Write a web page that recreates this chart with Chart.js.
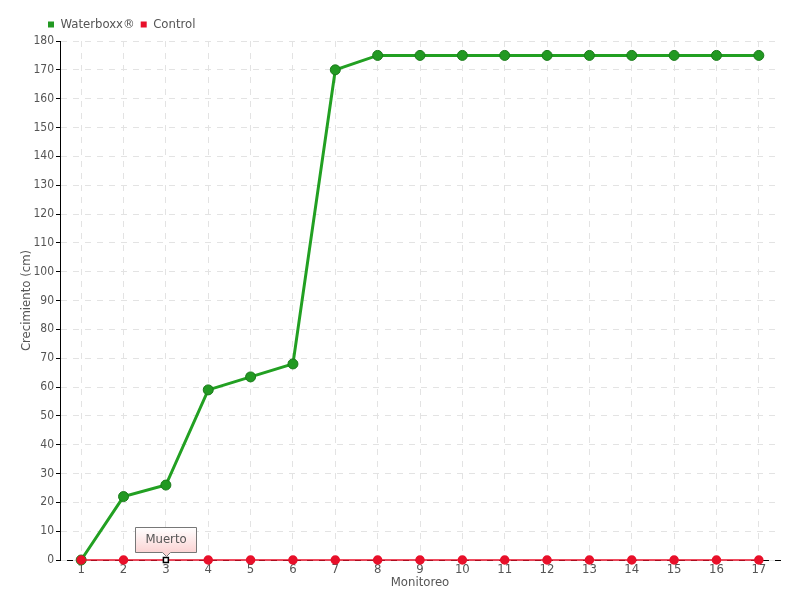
<!DOCTYPE html>
<html>
<head>
<meta charset="utf-8">
<script src="https://cdn.jsdelivr.net/npm/chart.js@4/dist/chart.umd.min.js"></script>
<style>
    html, body {margin: 0; padding: 0; background: #fff}
    canvas {display: block}
</style>
</head>
<body>
<canvas id="chart" width="800" height="600"></canvas>
<script>
// monitoring rounds
const labels     = ['1', '2', '3', '4', '5', '6', '7', '8', '9', '10', '11', '12', '13', '14', '15', '16', '17'];
// growth in cm
const waterboxx  = [0, 22, 26, 59, 63.5, 68, 170, 175, 175, 175, 175, 175, 175, 175, 175, 175, 175];
const control    = [0, 0, 0, 0, 0, 0, 0, 0, 0, 0, 0, 0, 0, 0, 0, 0, 0];
const deadIndex  = 2;
const deadLabel  = 'Muerto';

const FONT  = '"DejaVu Sans Condensed", "Liberation Sans Narrow", sans-serif';
const GREY  = '#555';
const RED   = '#e8102a';

// draws the "Muerto" note above the control point where the plant died
const deadNote = {
    id: 'deadNote',
    afterDatasetsDraw(chart) {
        const ctx = chart.ctx;
        const x   = Math.round(chart.scales.x.getPixelForValue(deadIndex));
        const y   = Math.round(chart.scales.y.getPixelForValue(control[deadIndex]));
        ctx.save();
        ctx.font = '13px ' + FONT;
        const w  = 61;
        const h  = 25;
        const l  = x - 31 + 0.5;
        const t  = y - 8 - h + 0.5;
        const g  = ctx.createLinearGradient(0, t, 0, t + h);
        g.addColorStop(0, '#ffffff');
        g.addColorStop(1, '#fbd3d3');
        ctx.beginPath();
        ctx.moveTo(l, t);
        ctx.lineTo(l + w, t);
        ctx.lineTo(l + w, t + h);
        ctx.lineTo(x + 4.5, t + h);
        ctx.lineTo(x + 0.5, t + h + 4);
        ctx.lineTo(x - 3.5, t + h);
        ctx.lineTo(l, t + h);
        ctx.closePath();
        ctx.fillStyle   = g;
        ctx.fill();
        ctx.strokeStyle = '#777';
        ctx.lineWidth   = 1;
        ctx.stroke();
        ctx.fillStyle    = GREY;
        ctx.textAlign    = 'center';
        ctx.textBaseline = 'middle';
        ctx.fillText(deadLabel, x, t + h / 2);
        ctx.restore();
    }
};

// nudges the legend to the right, next to the y axis
const legendShift = {
    id: 'legendShift',
    afterLayout(chart) {
        chart.legend.left  += 42;
        chart.legend.right += 42;
    }
};

const pointStyles = control.map((v, i) => i === deadIndex ? 'rect' : 'circle');
const pointFills  = control.map((v, i) => i === deadIndex ? '#fff' : RED);
const pointBorder = control.map((v, i) => i === deadIndex ? '#000' : RED);
const pointRadius = control.map((v, i) => i === deadIndex ? 3.5 : 4);

new Chart(document.getElementById('chart'), {
    type: 'line',
    data: {
        labels,
        datasets: [{
            label           : 'Waterboxx®',
            data            : waterboxx,
            order           : 1,
            clip            : false,
            borderColor     : '#22a022',
            backgroundColor : '#229922',
            pointBorderColor: '#1a7a1a',
            borderWidth     : 3,
            pointRadius     : 5,
            pointBorderWidth: 1,
            tension         : 0
        }, {
            label           : 'Control',
            data            : control,
            order           : 0,
            clip            : false,
            borderColor     : RED,
            backgroundColor : RED,
            borderWidth     : 1.5,
            pointStyle      : pointStyles,
            pointBackgroundColor: pointFills,
            pointBorderColor: pointBorder,
            pointBorderWidth: 1.5,
            pointRadius     : pointRadius,
            tension         : 0
        }]
    },
    options: {
        responsive: false,
        animation : false,
        layout    : {padding: {left: 0, right: 20, top: 12, bottom: 10}},
        plugins   : {
            tooltip: {enabled: false},
            legend : {
                align : 'start',
                labels: {
                    boxWidth : 6,
                    boxHeight: 6,
                    padding  : 6,
                    color    : GREY,
                    font     : {family: FONT, size: 13},
                    generateLabels(chart) {
                        return chart.data.datasets.map((d, i) => ({
                            text        : d.label,
                            fillStyle   : d.backgroundColor,
                            strokeStyle : d.backgroundColor,
                            lineWidth   : 0,
                            fontColor   : GREY,
                            datasetIndex: i
                        }));
                    }
                }
            }
        },
        scales: {
            x: {
                offset: true,
                afterFit(s) {s.height = 30},
                grid  : {color: '#e3e3e3', drawTicks: false, offset: false},
                border: {color: '#000', width: 1, dash: [6, 6], z: -1},
                ticks : {color: GREY, padding: 2, font: {family: FONT, size: 13}},
                title : {display: true, text: 'Monitoreo', color: GREY, padding: 0, font: {family: FONT, size: 13}}
            },
            y: {
                min   : 0,
                max   : 180,
                afterFit(s) {s.width = 60},
                grid  : {color: '#e3e3e3', tickColor: '#000', tickLength: 4},
                border: {color: '#000', width: 1, dash: [6, 6]},
                ticks : {stepSize: 10, color: GREY, padding: 2, font: {family: FONT, size: 12}},
                title : {display: true, text: 'Crecimiento (cm)', color: GREY, padding: {top: 19, bottom: 0}, font: {family: FONT, size: 13}}
            }
        }
    },
    plugins: [deadNote, legendShift]
});
</script>
</body>
</html>
